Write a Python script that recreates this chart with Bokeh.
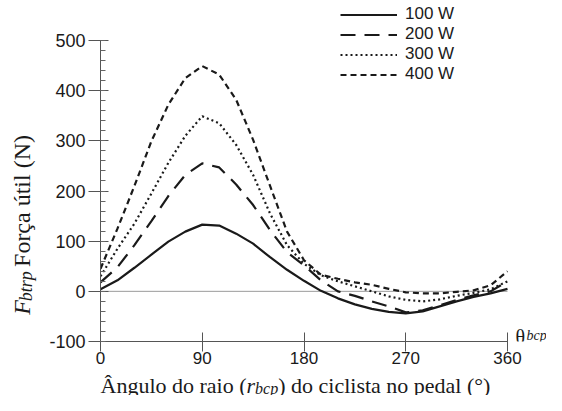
import math
from bokeh.plotting import figure
from bokeh.layouts import column, row
from bokeh.models import (Range1d, SingleIntervalTicker, FixedTicker, Label,
                          Legend, LegendItem)
from bokeh.embed import file_html
from bokeh.resources import INLINE

# ---------------- data ----------------
angles = [0, 15, 30, 45, 60, 75, 90, 105, 120, 135, 150, 165, 180,
          195, 210, 225, 240, 255, 270, 285, 300, 315, 330, 345, 360]
f_100w = [4, 22, 47, 73, 99, 119, 133, 131, 115, 95, 68, 43, 21,
          1, -14, -26, -35, -41, -44, -40, -30, -20, -11, -4, 5]
f_200w = [18, 48, 92, 140, 190, 232, 255, 247, 213, 172, 122, 78, 52,
          22, 0, -9, -20, -30, -42, -38, -28, -17, -8, 0, 20]
f_300w = [30, 85, 135, 195, 256, 310, 349, 335, 292, 232, 155, 92, 55,
          32, 20, 10, 0, -10, -17, -20, -16, -9, -3, 4, 20]
f_400w = [45, 125, 210, 299, 372, 425, 449, 432, 382, 302, 210, 119, 62,
          33, 25, 18, 13, 5, -2, -4, -4, -1, 2, 12, 40]
series_labels = ["100 W", "200 W", "300 W", "400 W"]
x_ticks = [0, 90, 180, 270, 360]
y_interval = 100
y_label_overrides = {-100: "-100"}

# ---------------- layout (pixels of the 546x395 page area) ----------------
TOTAL_W, TOTAL_H = 546, 395
YT_W = 40                      # strip for the rotated y title
MAIN_H = 370                   # main plot height; x title strip below
FL, FR, FT, FB = 100, 507, 40, 341  # where x 0..360 / y 500..-100 sit
X0, X1, Y0, Y1 = 0, 360, -100, 500

ppx = (FR - FL) / (X1 - X0)        # px per degree
ppy = (FB - FT) / (Y1 - Y0)        # px per newton
x_end = X1 + (TOTAL_W - FR) / ppx  # frame extends to the right edge
y_top = Y1 + FT / ppy              # frame extends to the top edge

TICK_FONT = "Liberation Sans"
SERIF = "Liberation Serif"
INK = "#1a1a1a"
AXIS = "#555555"

p = figure(width=TOTAL_W - YT_W, height=MAIN_H, output_backend="svg",
           toolbar_location=None,
           x_range=Range1d(X0, x_end), y_range=Range1d(Y0, y_top),
           min_border_left=FL - YT_W, min_border_right=0,
           min_border_top=0, min_border_bottom=MAIN_H - FB)
p.outline_line_color = None
p.grid.visible = False

xa = p.xaxis[0]
xa.ticker = FixedTicker(ticks=x_ticks)
xa.bounds = (X0, X1)
xa.major_tick_in = 9
xa.major_tick_out = 10
xa.minor_tick_in = 0
xa.minor_tick_out = 0
xa.major_label_standoff = 0
xa.axis_line_color = AXIS
xa.major_tick_line_color = AXIS
xa.major_label_text_font = TICK_FONT
xa.major_label_text_font_size = "17px"
xa.major_label_text_line_height = 1.0
xa.major_label_text_color = INK

ya = p.yaxis[0]
ya.ticker = SingleIntervalTicker(interval=y_interval, num_minor_ticks=5)
ya.bounds = (Y0, Y1)
ya.major_tick_in = 8
ya.major_tick_out = 12
ya.minor_tick_in = 5
ya.minor_tick_out = 0
ya.major_label_standoff = 3
ya.axis_line_color = AXIS
ya.major_tick_line_color = AXIS
ya.minor_tick_line_color = "#666666"
ya.major_label_text_font = TICK_FONT
ya.major_label_text_font_size = "18px"
ya.major_label_text_color = INK
ya.major_label_overrides = y_label_overrides

# zero reference line across the angle range
p.segment(x0=[x_ticks[0]], y0=[0], x1=[x_ticks[-1]], y1=[0],
          line_color="#9a9a9a", line_width=1)

r1 = p.line(angles, f_100w, line_color=INK, line_width=2.2)
r2 = p.line(angles, f_200w, line_color=INK, line_width=2.2, line_dash="15 9")
r3 = p.line(angles, f_300w, line_color=INK, line_width=2.2, line_dash="2 3")
r4 = p.line(angles, f_400w, line_color=INK, line_width=2.2, line_dash="6 4")

legend = Legend(items=[LegendItem(label=lab_, renderers=[r])
                       for lab_, r in zip(series_labels, [r1, r2, r3, r4])],
                location=(240, 257), glyph_width=57, glyph_height=19,
                label_height=19, label_standoff=8, spacing=0, padding=0, margin=0,
                border_line_color=None, background_fill_alpha=0,
                label_text_font=TICK_FONT, label_text_font_size="17px",
                label_text_line_height=1.0,
                label_text_color=INK)
p.add_layout(legend)


def lab(fig, text, x, y, size, italic=False, angle=0.0):
    fig.add_layout(Label(x=x, y=y, text=text, angle=angle,
                         text_font=SERIF, text_font_size=f"{size}px",
                         text_font_style="italic" if italic else "normal",
                         text_color=INK, text_align="left",
                         text_baseline="alphabetic"))


def mx(fx):
    return X0 + (fx - FL) / ppx


def my(fy):
    return Y1 - (fy - FT) / ppy


# theta label at the end of the x axis (inside the main frame)
lab(p, "θ", mx(515), my(336), 20)
lab(p, "bcp", mx(526), my(335), 14, italic=True)


def blank(w, h):
    f = figure(width=w, height=h, output_backend="svg", toolbar_location=None,
               x_range=Range1d(0, w), y_range=Range1d(0, h),
               x_axis_type=None, y_axis_type=None, min_border=0)
    f.outline_line_color = None
    f.grid.visible = False
    return f


S, SS = 24, 18

# y title strip (rotated text, reading upwards)
yt = blank(YT_W, MAIN_H)
A = math.pi / 2
bx, fy = 21, 341
lab(yt, "F", bx, MAIN_H - fy, S, italic=True, angle=A)
fy -= 0.611 * S
lab(yt, "btrp", bx + 4, MAIN_H - fy, SS, italic=True, angle=A)
fy -= 1.667 * SS + 0.3 * S
lab(yt, "Força útil (N)", bx, MAIN_H - fy, S, angle=A)

# x title strip
XT_H = TOTAL_H - MAIN_H
xt = blank(TOTAL_W, XT_H)
yb = TOTAL_H - 385          # anchor, measured from the strip bottom
fx = 100
S2 = 22
lab(xt, "Ângulo do raio (", fx, yb, S2)
fx += 6.638 * S2
lab(xt, "r", fx, yb, S2, italic=True)
fx += 0.389 * S2
lab(xt, "bcp", fx, yb - 3, 16, italic=True)
fx += 1.444 * 16
lab(xt, ") do ciclista no pedal (°)", fx, yb, S2)

layout = column(row(yt, p), xt)
open("out.html", "w").write(file_html(layout, INLINE))
